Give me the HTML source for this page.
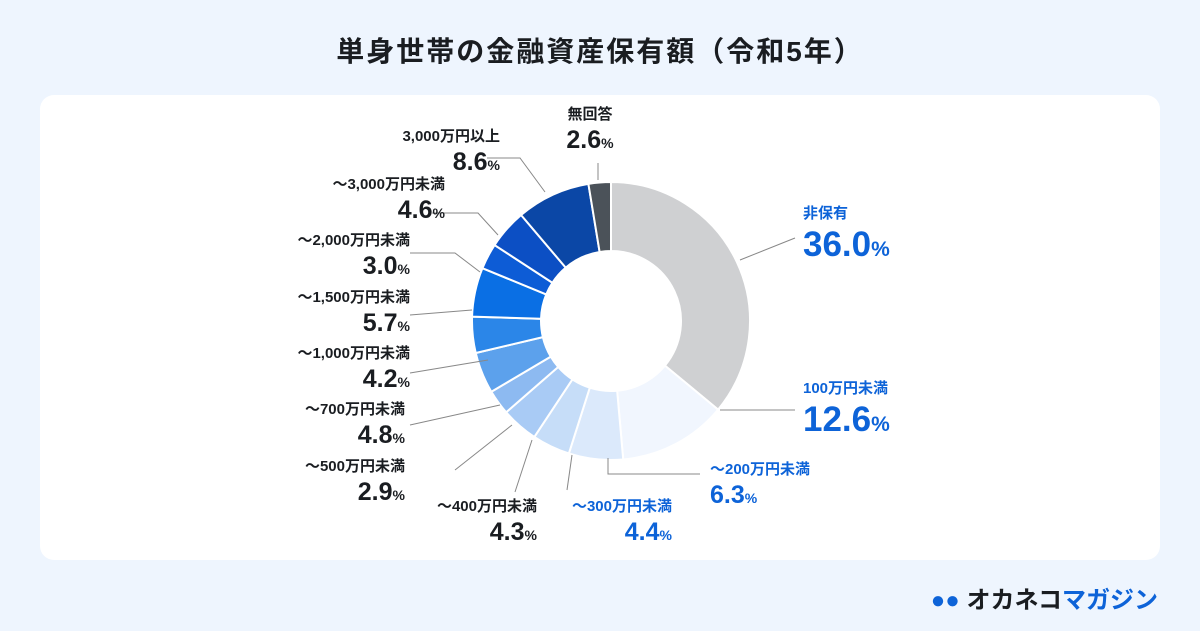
<!DOCTYPE html>
<html><head><meta charset="utf-8"><style>
body{margin:0;width:1200px;height:631px;background:#eef5fe;font-family:"Liberation Sans","Noto Sans CJK JP",sans-serif;position:relative;overflow:hidden}
.title{position:absolute;top:30px;left:0;width:1200px;text-align:center;font-size:28px;font-weight:bold;color:#1a1d21;letter-spacing:2px}
.card{position:absolute;left:40px;top:95px;width:1120px;height:465px;background:#fff;border-radius:14px}
.lb{position:absolute;font-weight:bold;color:#1a1d21;line-height:1;white-space:nowrap}
.lb .n{font-size:15px;display:block;margin-bottom:6px}
.r{text-align:right}
.blue{color:#0d63d8}
.logo{position:absolute;right:42px;top:580px;font-size:24px;font-weight:bold;color:#1a1d21}
</style></head><body>
<div class="title">単身世帯の金融資産保有額（令和5年）</div>
<div class="card"></div>
<svg id="chart" width="1200" height="631" style="position:absolute;left:0;top:0"></svg>
<div id="labels"></div>
<div class="logo"><span style="color:#0d63d8">●●</span> オカネコ<span style="color:#0d63d8">マガジン</span></div>
<script>
const categories=["非保有","100万円未満","～200万円未満","～300万円未満","～400万円未満","～500万円未満","～700万円未満","～1,000万円未満","～1,500万円未満","～2,000万円未満","～3,000万円未満","3,000万円以上","無回答"];
const values=[36.0,12.6,6.3,4.4,4.3,2.9,4.8,4.2,5.7,3.0,4.6,8.6,2.6];
const colors=["#cfd0d2","#f1f6fe","#dbe9fb","#c6ddf8","#a9cbf5","#8dbaf1","#5ca1ec","#2b86e8","#0a6fe4","#0d5cd6","#0c4fc4","#0b47a6","#4b5259"];
const labelPos=[[803,206,"l",1],[803,381,"l",1],[710,462,"l",1],[672,499,"r",1],[537,499,"r",0],[405,459,"r",0],[405,402,"r",0],[410,346,"r",0],[410,290,"r",0],[410,233,"r",0],[445,177,"r",0],[500,129,"r",0],[590,107,"c",0]];
const elbow=[[740,260,795,238],[720,410,795,410],[608,458,608,474,700,474],[572,455,567,490],[532,440,515,492],[512,425,455,470],[500,405,410,425],[488,360,410,373],[472,310,410,315],[480,272,455,253,410,253],[498,235,478,213,432,213],[545,192,520,158,487,158],[598,180,598,163]];
const cx=611,cy=321,R=139,r=70;
const svg=document.getElementById('chart');
const NS='http://www.w3.org/2000/svg';
const tot=values.reduce((a,b)=>a+b,0);
function pt(a,rad){return [cx+rad*Math.sin(a),cy-rad*Math.cos(a)];}
let a0=0;
values.forEach((v,i)=>{
 const a1=a0+v/tot*2*Math.PI;
 const [x1,y1]=pt(a0,R),[x2,y2]=pt(a1,R),[x3,y3]=pt(a1,r),[x4,y4]=pt(a0,r);
 const lg=(a1-a0)>Math.PI?1:0;
 const p=document.createElementNS(NS,'path');
 p.setAttribute('d',`M${x1},${y1}A${R},${R} 0 ${lg} 1 ${x2},${y2}L${x3},${y3}A${r},${r} 0 ${lg} 0 ${x4},${y4}Z`);
 p.setAttribute('fill',colors[i]);p.setAttribute('stroke','#fff');p.setAttribute('stroke-width','2');
 
 
 svg.appendChild(p);
 const e=elbow[i];let pts=[];for(let k=0;k<e.length;k+=2)pts.push(e[k]+','+e[k+1]);
 const l=document.createElementNS(NS,'polyline');
 l.setAttribute('points',pts.join(' '));l.setAttribute('fill','none');l.setAttribute('stroke','#888');l.setAttribute('stroke-width','1');
 
 
 svg.appendChild(l);
 a0=a1;
});
const L=document.getElementById('labels');
categories.forEach((c,i)=>{
 const [x,y,al,b]=labelPos[i];
 const d=document.createElement('div');
 d.className='lb'+(b?' blue':'');
 
 
 const big=i<2;
 d.innerHTML=`<span class="n">${c}</span><span style="font-size:${big?35:25}px">${values[i].toFixed(1)}</span><span style="font-size:${big?21:14}px">%</span>`;
 d.style.top=y+'px';
 if(al==='l'){d.style.left=x+'px';}
 else if(al==='r'){d.style.right=(1200-x)+'px';d.classList.add('r');}
 else{d.style.left=(x-60)+'px';d.style.width='120px';d.style.textAlign='center';}
 L.appendChild(d);
});
</script>
</body></html>
